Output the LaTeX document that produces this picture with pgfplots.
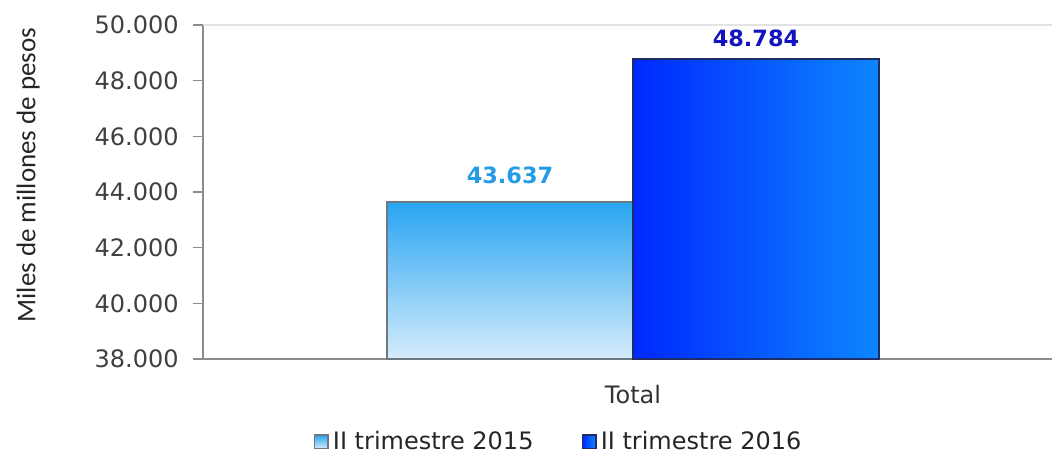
\documentclass[12pt,border=0pt]{standalone}
\usepackage{pgfplots}
\pgfplotsset{compat=1.18}
\usepackage{fontspec}
\setmainfont{DejaVu Sans}
\newfontfamily\carlito{Carlito}
\definecolor{lightlbl}{RGB}{35,155,230}
\definecolor{darklbl}{RGB}{20,20,190}
\definecolor{lighttop}{RGB}{40,165,242}
\definecolor{lightbot}{RGB}{214,236,251}
\definecolor{darkleft}{RGB}{0,40,255}
\definecolor{darkright}{RGB}{12,135,255}
\definecolor{axisgray}{RGB}{140,140,140}
\definecolor{txtgray}{RGB}{64,64,64}
\definecolor{lightedge}{RGB}{110,120,130}
\definecolor{darkedge}{RGB}{30,45,100}
\begin{document}
\begin{tikzpicture}
\useasboundingbox (0,0) rectangle (526pt,230.5pt);
\begin{axis}[
  at={(101.5pt,51pt)}, anchor=south west,
  scale only axis, width=424.5pt, height=167pt,
  xmin=-1, xmax=0.9744,
  ymin=38000, ymax=50000,
  ytick={38000,40000,...,50000},
  scaled y ticks=false,
  xtick={0}, xticklabels={Total},
  axis x line=bottom, axis y line=left,
  axis line style={axisgray, line width=0.8pt, -},
  x axis line style={-}, y axis line style={-},
  tick align=outside,
  major tick length=5pt,
  ytick style={axisgray, line width=0.8pt},
  xtick style={draw=none},
  /pgf/number format/.cd, fixed, precision=0, 1000 sep={.}, assume math mode=true,
  /pgfplots/.cd,
  yticklabel style={text=txtgray, xshift=-3pt},
  xticklabel style={text=black!80, yshift=-4pt},
  extra y ticks={50000}, extra y tick labels={},
  extra y tick style={grid=major, major grid style={gray!22, line width=1.2pt}, tick style={draw=none}},
  ylabel={\carlito\fontsize{13.5}{15}\selectfont Miles de millones de pesos},
  ylabel style={at={(axis description cs:-0.206,0.551)}, anchor=center, rotate=0, text=black!85},
  bar width=0.572,
  nodes near coords,
  nodes near coords style={font=\fontsize{11.2}{13}\selectfont\bfseries, anchor=south},
  legend columns=2,
  legend style={draw=none, fill=none, at={(axis description cs:0.42,-0.248)}, anchor=center,
    /tikz/every even column/.append style={column sep=22pt}, text=black!85},
  legend image code/.code={\path[#1] (0pt,-3.4pt) rectangle (6.8pt,3.4pt);},
]
\addplot[ybar, bar shift=-0.286, top color=lighttop, bottom color=lightbot,
  draw=lightedge, line width=0.8pt,
  nodes near coords style={text=lightlbl, yshift=4.5pt, xshift=-61.5pt}]
  coordinates {(0,43637)};
\addlegendentry{II trimestre 2015}
\addplot[ybar, bar shift=0.286, left color=darkleft, right color=darkright,
  draw=darkedge, line width=0.8pt,
  nodes near coords style={text=darklbl, yshift=1.5pt, xshift=61.5pt}]
  coordinates {(0,48784)};
\addlegendentry{II trimestre 2016}
\end{axis}
\end{tikzpicture}
\end{document}
